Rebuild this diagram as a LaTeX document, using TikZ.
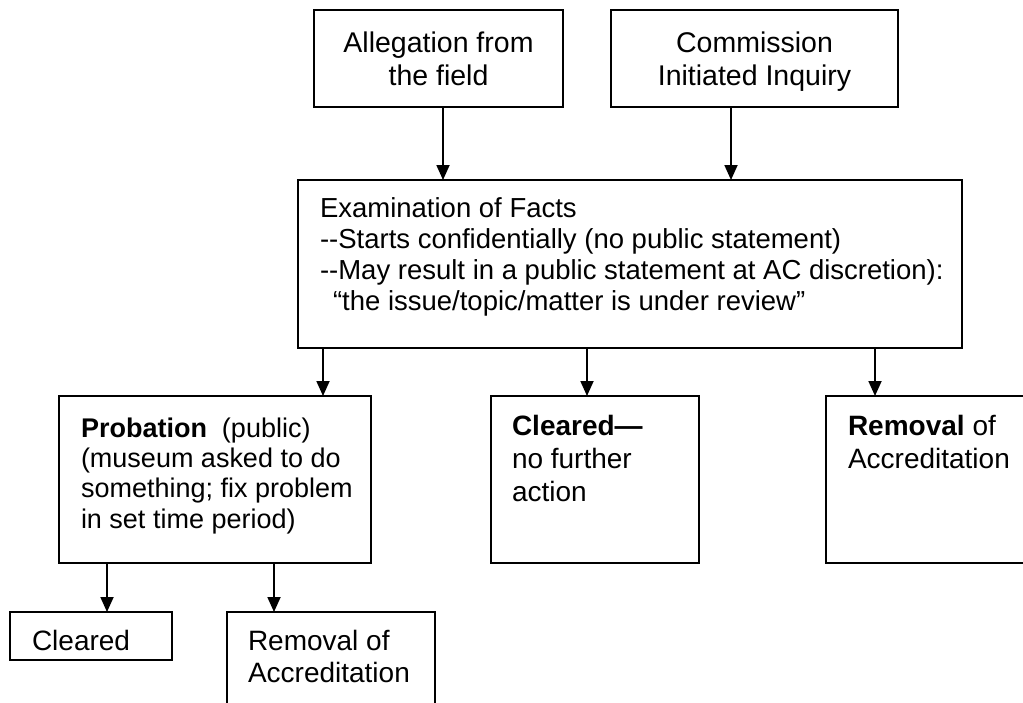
\documentclass[tikz,border=0pt]{standalone}
\usepackage{fontspec}
\newfontfamily\arial{Liberation Sans}
\usetikzlibrary{arrows.meta}
\newcommand{\myfs}[2]{\fontsize{#1}{#2}\selectfont}
\tikzset{
  box/.style={draw, line width=1.6pt, rectangle, inner sep=0pt, outer sep=0pt, anchor=north west},
  arr/.style={-{Triangle[width=13pt,length=15pt]}, line width=1.8pt},
  txt/.style={inner sep=0pt, outer sep=0pt, align=left, anchor=base west},
  ctxt/.style={inner sep=0pt, outer sep=0pt, align=center, anchor=base},
}
\begin{document}
\begin{tikzpicture}[x=1pt,y=-1pt]
\useasboundingbox (0,0) rectangle (1023,702);
\clip (0,0) rectangle (1023,702);
% boxes
\node[box, minimum width=249pt, minimum height=97pt] (alleg) at (314,10) {};
\node[box, minimum width=287pt, minimum height=97pt] (comm) at (611,10) {};
\node[box, minimum width=664pt, minimum height=168pt] (exam) at (298,180) {};
\node[box, minimum width=312pt, minimum height=167pt] (prob) at (59,396) {};
\node[box, minimum width=208pt, minimum height=167pt] (clr) at (491,396) {};
\node[box, minimum width=260pt, minimum height=167pt] (rem) at (826,396) {};
\node[box, minimum width=162pt, minimum height=48pt] (clr2) at (10,612) {};
\node[box, minimum width=208pt, minimum height=120pt] (rem2) at (227,612) {};
% texts (anchor = baseline of the last line)
\node[ctxt, font=\arial\myfs{28.5}{33}] (talleg) at (438.5,85) {Allegation from\\the field};
\node[ctxt, font=\arial\myfs{28.5}{33}] (tcomm) at (754.5,85) {Commission\\Initiated Inquiry};
\node[txt, font=\arial\myfs{27.5}{30.7}] (texam) at (320,310) {Examination of Facts\\--Starts confidentially (no public statement)\\--May result in a public statement at AC discretion):\\\hspace*{13pt}“the issue/topic/matter is under review”};
\node[txt, font=\arial\myfs{27}{30.3}] (tprob) at (81,528) {\textbf{Probation}\ \ (public)\\(museum asked to do\\something; fix problem\\in set time period)};
\node[txt, font=\arial\myfs{28}{33}] (tclr) at (512,501) {\textbf{Cleared—}\\no further\\action};
\node[txt, font=\arial\myfs{28}{33}] (trem) at (848,468) {\textbf{Removal} of\\Accreditation};
\node[txt, font=\arial\myfs{28}{32}] (tclr2) at (32,650) {Cleared};
\node[txt, font=\arial\myfs{28}{32}] (trem2) at (248,682) {Removal of\\Accreditation};
% arrow columns
\coordinate (a1) at (443,0);
\coordinate (a2) at (731,0);
\coordinate (b1) at (323,0);
\coordinate (b2) at (587,0);
\coordinate (b3) at (875,0);
\coordinate (c1) at (107,0);
\coordinate (c2) at (274,0);
% connectors
\draw[arr] (alleg.south -| a1) -- (exam.north -| a1);
\draw[arr] (comm.south -| a2) -- (exam.north -| a2);
\draw[arr] (exam.south -| b1) -- (prob.north -| b1);
\draw[arr] (exam.south -| b2) -- (clr.north -| b2);
\draw[arr] (exam.south -| b3) -- (rem.north -| b3);
\draw[arr] (prob.south -| c1) -- (clr2.north -| c1);
\draw[arr] (prob.south -| c2) -- (rem2.north -| c2);
\end{tikzpicture}
\end{document}
